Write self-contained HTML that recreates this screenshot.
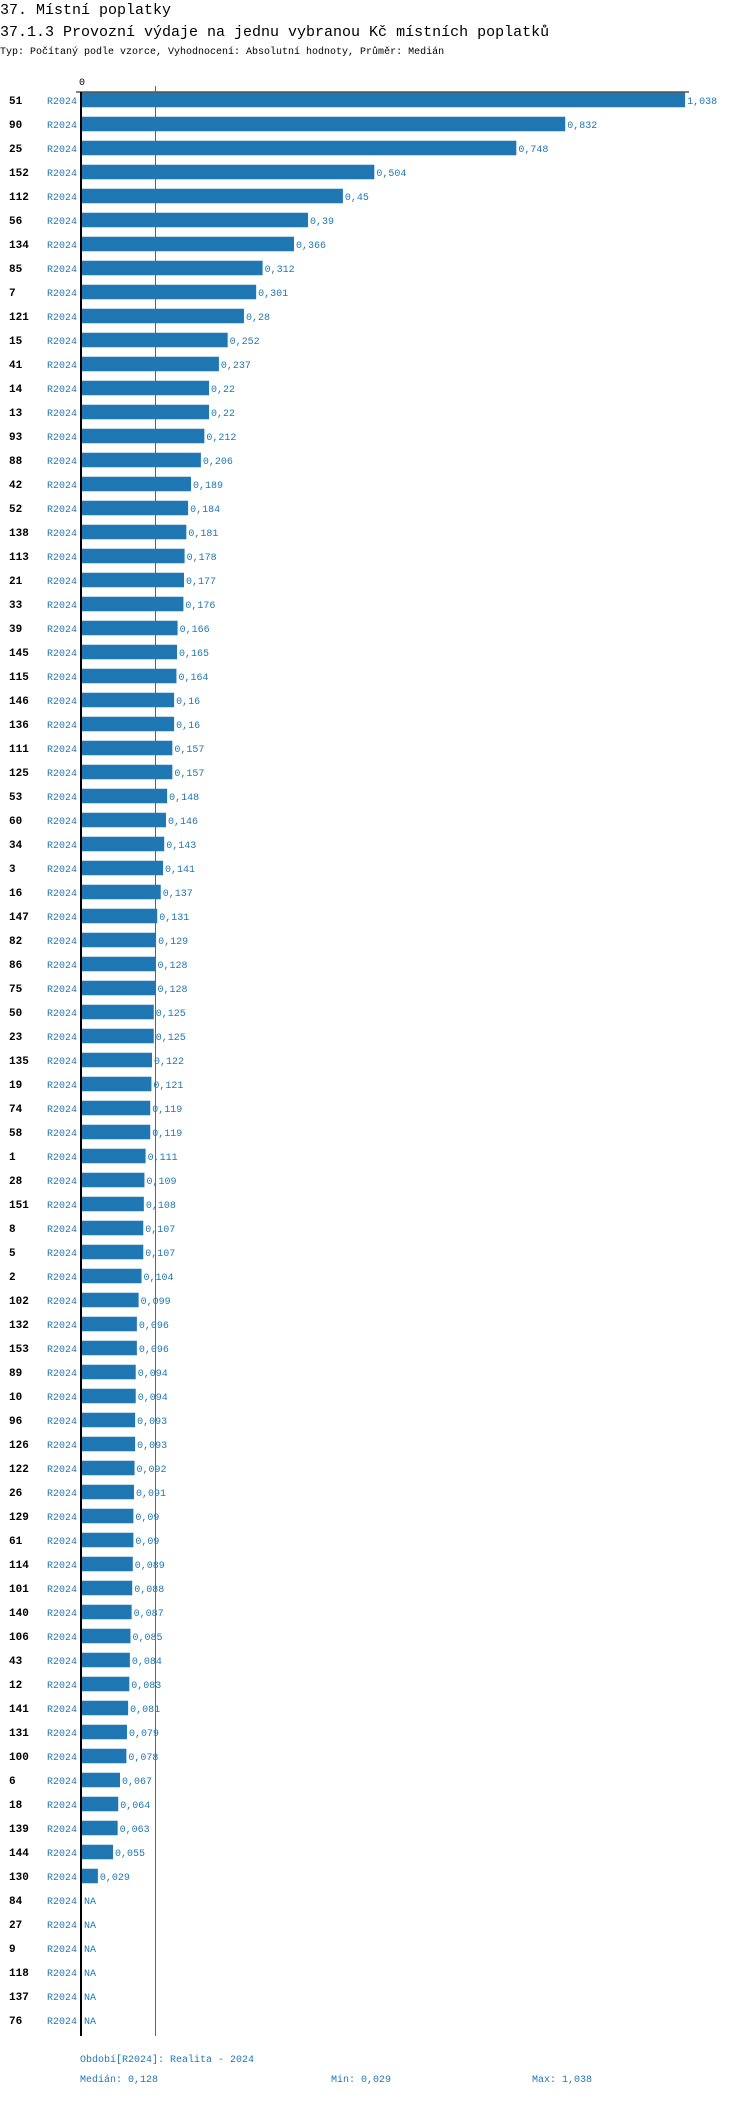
<!DOCTYPE html>
<html><head><meta charset="utf-8"><style>
body{margin:0;background:#fff;width:750px;height:2096px;overflow:hidden}
svg text{font-family:"Liberation Mono","DejaVu Sans Mono",monospace}
</style></head><body>
<svg id="chart" width="750" height="2096" xmlns="http://www.w3.org/2000/svg">
<text x="0" y="14" font-size="15" fill="#000">37. Místní poplatky</text>
<text x="0" y="36" font-size="15" fill="#000">37.1.3 Provozní výdaje na jednu vybranou Kč místních poplatků</text>
<text x="0" y="54" font-size="10" fill="#000">Typ: Počítaný podle vzorce, Vyhodnocení: Absolutní hodnoty, Průměr: Medián</text>
<g id="marks"></g>
<text x="80" y="2062" font-size="10" fill="#1f77b4">Období[R2024]: Realita - 2024</text>
<text x="80" y="2082" font-size="10" fill="#1f77b4">Medián: 0,128</text>
<text x="331" y="2082" font-size="10" fill="#1f77b4">Min: 0,029</text>
<text x="532" y="2082" font-size="10" fill="#1f77b4">Max: 1,038</text>
</svg>
<script>
const categories=["51","90","25","152","112","56","134","85","7","121","15","41","14","13","93","88","42","52","138","113","21","33","39","145","115","146","136","111","125","53","60","34","3","16","147","82","86","75","50","23","135","19","74","58","1","28","151","8","5","2","102","132","153","89","10","96","126","122","26","129","61","114","101","140","106","43","12","141","131","100","6","18","139","144","130","84","27","9","118","137","76"];
const values=[1.038,0.832,0.748,0.504,0.45,0.39,0.366,0.312,0.301,0.28,0.252,0.237,0.22,0.22,0.212,0.206,0.189,0.184,0.181,0.178,0.177,0.176,0.166,0.165,0.164,0.16,0.16,0.157,0.157,0.148,0.146,0.143,0.141,0.137,0.131,0.129,0.128,0.128,0.125,0.125,0.122,0.121,0.119,0.119,0.111,0.109,0.108,0.107,0.107,0.104,0.099,0.096,0.096,0.094,0.094,0.093,0.093,0.092,0.091,0.09,0.09,0.089,0.088,0.087,0.085,0.084,0.083,0.081,0.079,0.078,0.067,0.064,0.063,0.055,0.029,null,null,null,null,null,null];
const period="R2024";
const median=0.128;
const xTicks=[0];
const NS="http://www.w3.org/2000/svg";
const g=document.getElementById('marks');
const x0=81, pxPerUnit=582, y0=100, pitch=24, barH=14.5;
const xs=v=>x0+v*pxPerUnit;
const ys=i=>y0+i*pitch;
function mk(tag,attrs,txt){const e=document.createElementNS(NS,tag);for(const k in attrs)e.setAttribute(k,attrs[k]);if(txt!=null)e.textContent=txt;g.appendChild(e);return e;}
const fmt=v=>String(v).replace('.',',');
const bottom=ys(categories.length-1)+16;
let e;
e=mk('line',{x1:76,y1:92,x2:689,y2:92,stroke:'#000','stroke-width':1});


e=mk('line',{x1:xs(median),y1:86,x2:xs(median),y2:bottom,stroke:'#1f77b4','stroke-width':1});


xTicks.forEach(t=>{
 e=mk('text',{x:xs(t)-2,y:85,'font-size':10,fill:'#000'},String(t));
 
 
});
categories.forEach((c,i)=>{
 const y=ys(i);
 e=mk('text',{x:9,y:y+4,'font-size':11,'font-weight':'bold',fill:'#000'},c);
 
 
 e=mk('text',{x:77,y:y+4,'font-size':10,fill:'#1f77b4','text-anchor':'end'},period);
 
 
 const v=values[i];
 if(v!=null){
  e=mk('rect',{x:x0,y:y-barH/2,width:xs(v)-x0,height:barH,fill:'#1f77b4'});
  
  
  e=mk('text',{x:xs(v)+2,y:y+4,'font-size':10,fill:'#1f77b4'},fmt(v));
  
  
 } else {
  e=mk('text',{x:x0+3,y:y+4,'font-size':10,fill:'#1f77b4'},'NA');
  
  
 }
});
e=mk('line',{x1:x0,y1:92,x2:x0,y2:bottom,stroke:'#000','stroke-width':2});


</script>
</body></html>
